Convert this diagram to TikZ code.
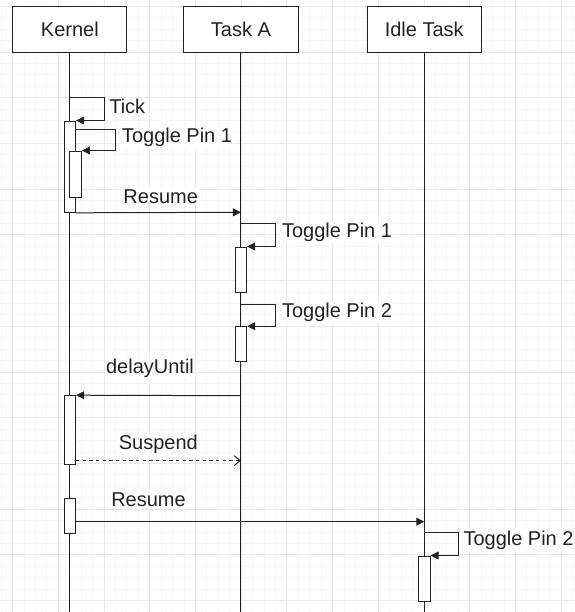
\documentclass[tikz,border=0pt]{standalone}
\usepackage{fontspec}
\setmainfont{Liberation Sans}
\usetikzlibrary{arrows.meta,fit,calc}
\definecolor{gridmajor}{HTML}{E8E8E8}
\definecolor{gridminor}{HTML}{F6F6F6}
\definecolor{ink}{HTML}{222222}
\begin{document}
\begin{tikzpicture}[x=0.75pt,y=-0.75pt,
  font=\fontsize{15}{18}\selectfont,
  head/.style={draw=ink, line width=0.75pt, fill=white, minimum width=85.7pt,
    minimum height=34.5pt, inner sep=0pt, text=ink},
  life/.style={draw=ink, line width=0.75pt},
  actbox/.style={draw=ink, line width=0.75pt, fill=white, inner sep=0pt},
  msg/.style={draw=ink, line width=0.75pt, -{Triangle[length=6pt,width=6pt]}},
  reply/.style={draw=ink, line width=0.75pt, dash pattern=on 2.5pt off 2.5pt,
    -{Straight Barb[length=4.5pt,width=7.5pt]}},
  lbl/.style={fill=white, inner sep=1pt, text=ink},
  gmin/.style={draw=gridminor, line width=0.75pt},
  gmaj/.style={draw=gridmajor, line width=0.75pt}]
\useasboundingbox (0,0) rectangle (575,612);
\fill[white] (0,0) rectangle (575,612);

% background grid: fine lines every 11.43 px, heavier every 45.71 px
\foreach \i in {-1,...,49} \draw[gmin] ({12.7+11.428*\i},0) -- ({12.7+11.428*\i},612);
\foreach \j in {0,...,52} \draw[gmin] (0,{6.4+11.428*\j}) -- (575,{6.4+11.428*\j});
\foreach \i in {0,...,12} \draw[gmaj] ({12.7+45.71*\i},0) -- ({12.7+45.71*\i},612);
\foreach \j in {0,...,13} \draw[gmaj] (0,{6.4+45.71*\j}) -- (575,{6.4+45.71*\j});

% participants and lifelines
\node[head] (kernel) at (69.85,29.3) {Kernel};
\node[head] (taskA) at (240.9,29.3) {Task A};
\node[head] (idle) at (424.25,29.3) {Idle Task};
\coordinate (kend) at (69.85,612);
\coordinate (aend) at (240.9,612);
\coordinate (iend) at (424.25,612);
\draw[life] (kernel) -- (kend);
\draw[life] (taskA) -- (aend);
\draw[life] (idle) -- (iend);

% activation bars
\node[actbox, fit={(64.05,121) (75.65,212.3)}] (k1) {};
\node[actbox, fit={(69.85,151) (81.45,197.3)}] (k2) {};
\node[actbox, fit={(235.1,247) (246.7,292.3)}] (a1) {};
\node[actbox, fit={(235.1,326.7) (246.7,361)}] (a2) {};
\node[actbox, fit={(64.05,395.7) (75.65,464)}] (k3) {};
\node[actbox, fit={(64.05,498.7) (75.65,533)}] (k4) {};
\node[actbox, fit={(418.45,556) (430.05,601.7)}] (i1) {};

% points on the lifelines where messages start or end
\coordinate (tick) at (69.85,97.7);
\coordinate (resA) at (240.9,212.3);
\coordinate (tgA1) at (240.9,223.7);
\coordinate (tgA2) at (240.9,304.3);
\coordinate (dlyA) at (240.9,395.7);
\coordinate (susA) at (240.9,460.7);
\coordinate (resI) at (424.25,521.7);
\coordinate (tgI) at (424.25,532.7);

% messages
\draw[msg] (tick) -- ++(34.3,0) |- (k1.north east);
\draw[msg] (k1.east |- 0,129) -- (115.7,129) |- (k2.north east);
\draw[msg] (k1.south east) -- (resA);
\draw[msg] (tgA1) -- ++(34.4,0) |- (a1.north east);
\draw[msg] (tgA2) -- ++(34.4,0) |- (a2.north east);
\draw[msg] (dlyA) -- (k3.north east);
\draw[reply] (k3.east |- susA) -- (susA);
\draw[msg] (k4.east |- resI) -- (resI);
\draw[msg] (tgI) -- ++(34.5,0) |- (i1.north east);

% message labels
\node[lbl, anchor=west] (lTick) at (107.7,106.7) {Tick};
\node[lbl, anchor=west] (lTg1) at (120.4,137.3) {Toggle Pin 1};
\node[lbl] (lRes1) at (160.7,196.7) {Resume};
\node[lbl, anchor=west] (lTgA1) at (280.4,232.3) {Toggle Pin 1};
\node[lbl, anchor=west] (lTgA2) at (280.4,312.7) {Toggle Pin 2};
\node[lbl] (lDly) at (150,368.3) {delayUntil};
\node[lbl] (lSus) at (158.3,444.3) {Suspend};
\node[lbl] (lRes2) at (148.5,499.3) {Resume};
\node[lbl, anchor=west] (lTgI) at (461.9,540.7) {Toggle Pin 2};
\end{tikzpicture}
\end{document}
